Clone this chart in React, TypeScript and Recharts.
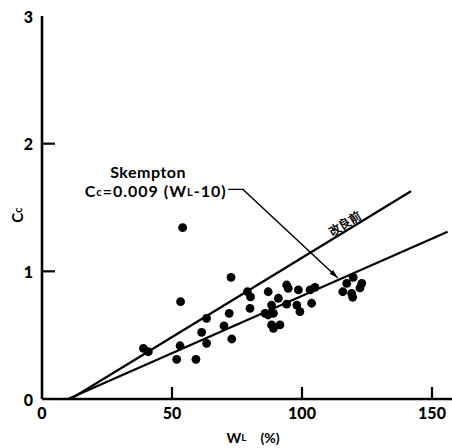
import { ComposedChart, XAxis, YAxis, Scatter, ReferenceLine, ReferenceDot } from "recharts";

const xTicks = [0, 50, 100, 150];
const yTicks = [0, 1, 2, 3];

// measured points (WL %, Cc)
const points = [
  { x: 54.1, y: 1.342 },
  { x: 72.7, y: 0.953 },
  { x: 53.3, y: 0.762 },
  { x: 39.0, y: 0.397 },
  { x: 40.9, y: 0.37 },
  { x: 53.1, y: 0.417 },
  { x: 51.8, y: 0.311 },
  { x: 59.2, y: 0.311 },
  { x: 61.4, y: 0.522 },
  { x: 63.3, y: 0.436 },
  { x: 63.3, y: 0.632 },
  { x: 70.0, y: 0.572 },
  { x: 72.0, y: 0.671 },
  { x: 73.0, y: 0.47 },
  { x: 79.0, y: 0.84 },
  { x: 80.2, y: 0.8 },
  { x: 80.0, y: 0.71 },
  { x: 87.0, y: 0.84 },
  { x: 90.9, y: 0.789 },
  { x: 94.1, y: 0.893 },
  { x: 94.7, y: 0.867 },
  { x: 94.1, y: 0.743 },
  { x: 88.3, y: 0.736 },
  { x: 85.8, y: 0.671 },
  { x: 87.0, y: 0.658 },
  { x: 89.0, y: 0.671 },
  { x: 88.3, y: 0.58 },
  { x: 89.0, y: 0.554 },
  { x: 91.5, y: 0.58 },
  { x: 98.6, y: 0.854 },
  { x: 98.0, y: 0.736 },
  { x: 99.2, y: 0.684 },
  { x: 103.7, y: 0.75 },
  { x: 103.1, y: 0.854 },
  { x: 105.0, y: 0.875 },
  { x: 115.7, y: 0.84 },
  { x: 117.2, y: 0.906 },
  { x: 119.7, y: 0.953 },
  { x: 119.1, y: 0.828 },
  { x: 119.5, y: 0.797 },
  { x: 123.0, y: 0.906 },
  { x: 122.3, y: 0.87 },
];

const skemptonLine = [
  { x: 10, y: 0 },
  { x: 156, y: 1.31 },
];

const beforeLine = [
  { x: 11, y: 0 },
  { x: 141.9, y: 1.627 },
];

const leader = [
  { x: 71.6, y: 1.642 },
  { x: 77.3, y: 1.642 },
  { x: 113.8, y: 0.948 },
];

const FONT = "Lato, 'DejaVu Sans', sans-serif";

const LeftTick = (props: any) => {
  const { x, y, payload } = props;
  const v = payload.value;
  return (
    <g>
      {v === 1 || v === 2 ? <line x1={x} x2={x + 13} y1={y} y2={y} stroke="#000" strokeWidth={2.2} /> : null}
      <text x={x - 9} y={y} textAnchor="end" dominantBaseline="central" fontFamily={FONT} fontWeight={900} fontSize={16} fill="#000">
        {v}
      </text>
    </g>
  );
};

const BottomTick = (props: any) => {
  const { x, y, payload } = props;
  const v = payload.value;
  return (
    <g>
      {v !== 0 ? <line x1={x} x2={x} y1={y} y2={y - 12} stroke="#000" strokeWidth={2.2} /> : null}
      <text x={x} y={y + 13} textAnchor="middle" dominantBaseline="central" fontFamily={FONT} fontWeight={900} fontSize={16} fill="#000">
        {v}
      </text>
    </g>
  );
};

const TopTick = (props: any) => {
  const { x, y } = props;
  return <line x1={x} x2={x} y1={y} y2={y + 11} stroke="#000" strokeWidth={2.2} />;
};

const RightTick = (props: any) => {
  const { x, y } = props;
  return <line x1={x - 12} x2={x} y1={y} y2={y} stroke="#000" strokeWidth={2.2} />;
};

const Dot = (props: any) => <circle cx={props.cx} cy={props.cy} r={4.4} fill="#000" />;

const LeaderShape = (props: any) => {
  const last = leader[leader.length - 1];
  if (!props.payload || props.payload.x !== last.x) return <g />;
  return (
    <polygon
      points="0,0 -9,-2.6 -9,2.6"
      fill="#000"
      transform={`translate(${props.cx},${props.cy}) rotate(43.6)`}
    />
  );
};

const textLabel = (content: any, anchor: string = "middle", rotate = 0, size = 15, spacing = 0) => (p: any) => (
  <text
    x={p.cx}
    y={p.cy}
    textAnchor={anchor}
    dominantBaseline="central"
    fontFamily={FONT}
    fontWeight={700}
    fontSize={size}
    letterSpacing={spacing}
    fill="#000"
    transform={rotate ? `rotate(${rotate} ${p.cx} ${p.cy})` : undefined}
  >
    {content}
  </text>
);

export default function App() {
  return (
    <div style={{ position: "absolute", left: 0, top: 0, width: 452, height: 448, overflow: "hidden", background: "#fff" }}>
      <ComposedChart width={460} height={448} margin={{ top: 16, right: 2, bottom: 19, left: 0 }}>
        <XAxis
          type="number"
          dataKey="x"
          domain={[0, 160]}
          allowDataOverflow
          ticks={xTicks}
          interval={0}
          height={30}
          tickSize={0}
          tickMargin={0}
          tickLine={false}
          axisLine={{ stroke: "#000", strokeWidth: 2.6 }}
          tick={BottomTick}
          label={{
            content: () => (
              <text x={253} y={437} textAnchor="middle" dominantBaseline="central" fontFamily={FONT} fontWeight={700} fontSize={14} fill="#000">
                W<tspan fontSize={10}>L</tspan>
                <tspan dx={14}>(%)</tspan>
              </text>
            ),
          }}
        />
        <XAxis
          xAxisId="top"
          orientation="top"
          type="number"
          dataKey="x"
          domain={[0, 160]}
          allowDataOverflow
          ticks={[50, 100, 150]}
          interval={0}
          height={0}
          tickSize={0}
          tickMargin={0}
          tickLine={false}
          axisLine={{ stroke: "#000", strokeWidth: 2.6 }}
          tick={TopTick}
        />
        <YAxis
          type="number"
          dataKey="y"
          domain={[0, 3]}
          allowDataOverflow
          ticks={yTicks}
          interval={0}
          width={42}
          tickSize={0}
          tickMargin={0}
          tickLine={false}
          axisLine={{ stroke: "#000", strokeWidth: 2.6 }}
          tick={LeftTick}
          label={{
            content: () => (
              <text x={17} y={215} textAnchor="middle" dominantBaseline="central" fontFamily={FONT} fontWeight={700} fontSize={15} fill="#000" transform="rotate(-90 17 215)">
                C<tspan fontSize={11}>c</tspan>
              </text>
            ),
          }}
        />
        <YAxis
          yAxisId="right"
          orientation="right"
          type="number"
          domain={[0, 3]}
          ticks={[1, 2]}
          interval={0}
          width={0}
          tickSize={0}
          tickMargin={0}
          tickLine={false}
          axisLine={false}
          tick={RightTick}
        />
        <ReferenceLine segment={skemptonLine} stroke="#000" strokeWidth={2.2} ifOverflow="visible" />
        <ReferenceLine segment={beforeLine} stroke="#000" strokeWidth={2.2} ifOverflow="visible" />
        <Scatter data={points} shape={Dot} isAnimationActive={false} />
        <Scatter data={leader} line={{ stroke: "#000", strokeWidth: 1.4 }} shape={LeaderShape} isAnimationActive={false} />
        <ReferenceDot x={40.8} y={1.785} r={0} ifOverflow="visible" shape={textLabel("Skempton", "middle", 0, 16, 0.5)} />
        <ReferenceDot
          x={71.0}
          y={1.63}
          r={0}
          ifOverflow="visible"
          shape={textLabel(
            <>
              C<tspan fontSize={11}>c</tspan>=0.009 (W<tspan fontSize={11}>L</tspan>-10)
            </>,
            "end",
            0,
            16,
            1
          )}
        />
        <ReferenceDot
          x={116.5}
          y={1.379}
          r={0}
          ifOverflow="visible"
          shape={textLabel("改良前", "middle", -32, 12)}
        />
      </ComposedChart>
    </div>
  );
}
